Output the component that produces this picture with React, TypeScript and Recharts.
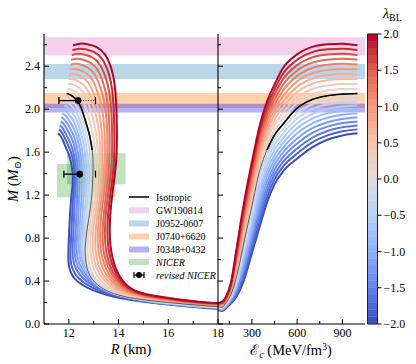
import React from 'react';
import { ComposedChart, Line, XAxis, YAxis, ReferenceArea, Scatter, ErrorBar } from 'recharts';

// central energy density grid (MeV/fm^3), shared by every sequence
const EPS = [75, 100, 130, 160, 200, 250, 300, 350, 400, 450, 500, 600, 700, 800, 900, 1000];

const LAMBDAS = [-2.0, -1.8, -1.6, -1.4, -1.2, -1.0, -0.8, -0.6, -0.4, -0.2, 0.0, 0.2, 0.4, 0.6, 0.8, 1.0, 1.2, 1.4, 1.6, 1.8, 2.0];

// mass (M_sun) per lambda, one row per lambda, one column per EPS value
const MASS = [
  [0.130, 0.120, 0.150, 0.190, 0.260, 0.420, 0.660, 0.900, 1.130, 1.300, 1.410, 1.540, 1.645, 1.715, 1.755, 1.775],
  [0.133, 0.124, 0.155, 0.198, 0.279, 0.456, 0.704, 0.952, 1.179, 1.346, 1.454, 1.587, 1.690, 1.756, 1.794, 1.812],
  [0.136, 0.127, 0.160, 0.206, 0.298, 0.492, 0.748, 1.004, 1.228, 1.392, 1.498, 1.634, 1.734, 1.797, 1.832, 1.849],
  [0.139, 0.131, 0.165, 0.214, 0.317, 0.528, 0.792, 1.056, 1.277, 1.438, 1.542, 1.681, 1.779, 1.838, 1.871, 1.886],
  [0.142, 0.134, 0.170, 0.222, 0.336, 0.564, 0.836, 1.108, 1.326, 1.484, 1.586, 1.728, 1.823, 1.879, 1.909, 1.923],
  [0.145, 0.138, 0.175, 0.230, 0.355, 0.600, 0.880, 1.160, 1.375, 1.530, 1.630, 1.775, 1.868, 1.920, 1.948, 1.961],
  [0.148, 0.141, 0.180, 0.238, 0.374, 0.636, 0.924, 1.212, 1.424, 1.576, 1.674, 1.822, 1.912, 1.961, 1.986, 1.998],
  [0.151, 0.145, 0.185, 0.246, 0.393, 0.672, 0.968, 1.264, 1.473, 1.622, 1.718, 1.869, 1.957, 2.002, 2.025, 2.035],
  [0.154, 0.148, 0.190, 0.254, 0.412, 0.708, 1.012, 1.316, 1.522, 1.668, 1.762, 1.916, 2.001, 2.043, 2.063, 2.072],
  [0.157, 0.152, 0.195, 0.262, 0.431, 0.744, 1.056, 1.368, 1.571, 1.714, 1.806, 1.963, 2.046, 2.084, 2.102, 2.109],
  [0.160, 0.155, 0.200, 0.270, 0.450, 0.780, 1.100, 1.420, 1.620, 1.760, 1.850, 2.010, 2.090, 2.125, 2.140, 2.146],
  [0.164, 0.160, 0.206, 0.281, 0.477, 0.817, 1.141, 1.462, 1.665, 1.807, 1.902, 2.060, 2.139, 2.173, 2.187, 2.191],
  [0.167, 0.165, 0.212, 0.292, 0.504, 0.854, 1.182, 1.504, 1.710, 1.854, 1.954, 2.110, 2.188, 2.221, 2.234, 2.236],
  [0.171, 0.170, 0.218, 0.303, 0.531, 0.891, 1.223, 1.546, 1.755, 1.901, 2.006, 2.160, 2.237, 2.269, 2.281, 2.281],
  [0.174, 0.175, 0.224, 0.314, 0.558, 0.928, 1.264, 1.588, 1.800, 1.948, 2.058, 2.210, 2.286, 2.317, 2.328, 2.326],
  [0.178, 0.180, 0.230, 0.325, 0.585, 0.965, 1.305, 1.630, 1.845, 1.995, 2.110, 2.260, 2.335, 2.365, 2.375, 2.371],
  [0.181, 0.185, 0.236, 0.336, 0.612, 1.002, 1.346, 1.672, 1.890, 2.042, 2.162, 2.310, 2.384, 2.413, 2.422, 2.415],
  [0.185, 0.190, 0.242, 0.347, 0.639, 1.039, 1.387, 1.714, 1.935, 2.089, 2.214, 2.360, 2.433, 2.461, 2.469, 2.460],
  [0.188, 0.195, 0.248, 0.358, 0.666, 1.076, 1.428, 1.756, 1.980, 2.136, 2.266, 2.410, 2.482, 2.509, 2.516, 2.505],
  [0.192, 0.200, 0.254, 0.369, 0.693, 1.113, 1.469, 1.798, 2.025, 2.183, 2.318, 2.460, 2.531, 2.557, 2.563, 2.550],
  [0.195, 0.205, 0.260, 0.380, 0.720, 1.150, 1.510, 1.840, 2.070, 2.230, 2.370, 2.510, 2.580, 2.605, 2.610, 2.595],
];

// radius (km), same layout as MASS
const RADIUS = [
  [22.0, 20.0, 17.5, 15.6, 13.7, 12.25, 11.98, 12.02, 12.08, 12.15, 12.15, 12.05, 11.88, 11.75, 11.65, 11.56],
  [21.9, 19.86, 17.35, 15.44, 13.62, 12.29, 12.07, 12.12, 12.17, 12.22, 12.21, 12.10, 11.92, 11.79, 11.69, 11.60],
  [21.8, 19.72, 17.2, 15.28, 13.53, 12.34, 12.16, 12.21, 12.25, 12.29, 12.26, 12.14, 11.96, 11.82, 11.72, 11.63],
  [21.7, 19.58, 17.05, 15.12, 13.45, 12.38, 12.25, 12.31, 12.34, 12.35, 12.32, 12.19, 12.01, 11.86, 11.76, 11.67],
  [21.6, 19.44, 16.9, 14.96, 13.36, 12.42, 12.34, 12.40, 12.42, 12.42, 12.38, 12.23, 12.05, 11.90, 11.79, 11.70],
  [21.5, 19.3, 16.75, 14.8, 13.28, 12.47, 12.43, 12.50, 12.51, 12.49, 12.44, 12.28, 12.09, 11.94, 11.83, 11.74],
  [21.4, 19.16, 16.6, 14.64, 13.19, 12.51, 12.52, 12.59, 12.60, 12.56, 12.49, 12.32, 12.13, 11.97, 11.86, 11.77],
  [21.3, 19.02, 16.45, 14.48, 13.11, 12.55, 12.61, 12.69, 12.68, 12.63, 12.55, 12.37, 12.17, 12.01, 11.90, 11.81],
  [21.2, 18.88, 16.3, 14.32, 13.02, 12.59, 12.70, 12.78, 12.77, 12.69, 12.61, 12.41, 12.22, 12.05, 11.93, 11.84],
  [21.1, 18.74, 16.15, 14.16, 12.94, 12.64, 12.79, 12.88, 12.85, 12.76, 12.66, 12.46, 12.26, 12.08, 11.97, 11.88],
  [21.0, 18.6, 16.0, 14.0, 12.85, 12.68, 12.88, 12.97, 12.94, 12.83, 12.72, 12.50, 12.30, 12.12, 12.00, 11.91],
  [20.73, 18.47, 15.95, 14.03, 12.93, 12.78, 12.98, 13.07, 13.04, 12.93, 12.82, 12.60, 12.38, 12.18, 12.05, 11.94],
  [20.46, 18.34, 15.9, 14.05, 13.02, 12.89, 13.08, 13.16, 13.13, 13.03, 12.92, 12.69, 12.46, 12.25, 12.09, 11.96],
  [20.19, 18.21, 15.85, 14.08, 13.10, 12.99, 13.19, 13.26, 13.23, 13.13, 13.02, 12.79, 12.54, 12.31, 12.14, 11.99],
  [19.92, 18.08, 15.8, 14.1, 13.18, 13.10, 13.29, 13.35, 13.32, 13.23, 13.12, 12.88, 12.62, 12.37, 12.18, 12.01],
  [19.65, 17.95, 15.75, 14.13, 13.27, 13.20, 13.39, 13.45, 13.42, 13.34, 13.22, 12.98, 12.70, 12.44, 12.23, 12.04],
  [19.38, 17.82, 15.7, 14.15, 13.35, 13.30, 13.49, 13.55, 13.52, 13.44, 13.32, 13.07, 12.78, 12.50, 12.27, 12.07],
  [19.11, 17.69, 15.65, 14.18, 13.43, 13.41, 13.59, 13.64, 13.61, 13.54, 13.42, 13.17, 12.86, 12.56, 12.32, 12.09],
  [18.84, 17.56, 15.6, 14.2, 13.51, 13.51, 13.70, 13.74, 13.71, 13.64, 13.52, 13.26, 12.94, 12.62, 12.36, 12.12],
  [18.57, 17.43, 15.55, 14.23, 13.60, 13.62, 13.80, 13.83, 13.80, 13.74, 13.62, 13.36, 13.02, 12.69, 12.41, 12.14],
  [18.3, 17.3, 15.5, 14.25, 13.68, 13.72, 13.90, 13.93, 13.90, 13.84, 13.72, 13.45, 13.10, 12.75, 12.45, 12.17],
];

const ISO_INDEX = 10; // lambda = 0, the isotropic star

// mass constraints (horizontal bands)
const BAND_NAMES = ['GW190814', 'J0952-0607', 'J0740+6620', 'J0348+0432'];
const BAND_LO = [2.50, 2.28, 2.01, 1.97];
const BAND_HI = [2.67, 2.42, 2.15, 2.05];

// NICER boxes
const NICER_R_LO = [11.52, 11.93];
const NICER_R_HI = [13.88, 14.28];
const NICER_M_LO = [1.18, 1.30];
const NICER_M_HI = [1.49, 1.59];

// revised NICER points
const REV_R = [12.37, 12.44];
const REV_M = [2.08, 1.395];
const REV_LO = [0.77, 0.64];
const REV_HI = [0.70, 0.63];
const REV_DOTTED = [0.70, 0];

const R_TICKS = [12, 13, 14, 15, 16, 17, 18];
const R_MAJOR = [12, 14, 16, 18];
const M_TICKS = [0, 0.2, 0.4, 0.6, 0.8, 1.0, 1.2, 1.4, 1.6, 1.8, 2.0, 2.2, 2.4, 2.6];
const M_MAJOR = [0, 0.4, 0.8, 1.2, 1.6, 2.0, 2.4];
const E_TICKS = [150, 300, 450, 600, 750, 900];
const E_MAJOR = [300, 600, 900];
const CB_TICKS = [-2, -1.5, -1, -0.5, 0, 0.5, 1, 1.5, 2];

const BAND_COLORS = ['#e377c2', '#1f77b4', '#ff7f0e', '#0000ff'];
const BAND_ALPHA = [0.35, 0.3, 0.35, 0.3];
const NICER_COLOR = '#2ca02c';
const FONT = '"Liberation Serif", "DejaVu Serif", serif';
const LINE_W = 2;

const CW = [
  [59, 76, 192], [98, 130, 234], [141, 176, 254], [184, 208, 249], [221, 221, 221],
  [245, 196, 173], [244, 154, 123], [222, 96, 77], [180, 4, 38],
];
function coolwarm(t: number) {
  const s = Math.max(0, Math.min(1, t)) * 8;
  const i = Math.min(7, Math.floor(s));
  const f = s - i;
  const c = CW[i].map((v, n) => Math.round(v + (CW[i + 1][n] - v) * f));
  return `rgb(${c[0]},${c[1]},${c[2]})`;
}
const lamColor = (lam: number) => coolwarm((lam + 2) / 4);

const minus = (s: string) => s.replace('-', '\u2212');
const isIn = (arr: number[], v: number) => arr.some((m) => Math.abs(m - v) < 1e-9);

type Side = 'left' | 'right' | 'top' | 'bottom';
const makeTick = (side: Side, majors: number[], fmt?: (v: number) => string, outward = false) => (props: any) => {
  const { x, y, payload } = props;
  const v = payload.value as number;
  const major = isIn(majors, v);
  const len = major ? 5 : 3;
  let x2 = x;
  let y2 = y;
  if (side === 'left') x2 = x + len;
  if (side === 'right') x2 = outward ? x + 4 : x - len;
  if (side === 'top') y2 = y + len;
  if (side === 'bottom') y2 = y - len;
  let label = null;
  if (fmt && major) {
    const common = { fontFamily: FONT, fontSize: 12, fill: '#000' };
    if (side === 'left') label = <text x={x - 4} y={y + 4} textAnchor="end" {...common}>{fmt(v)}</text>;
    if (side === 'bottom') label = <text x={x} y={y + 13} textAnchor="middle" {...common}>{fmt(v)}</text>;
    if (side === 'right') label = <text x={x + 6} y={y + 4} textAnchor="start" {...common}>{fmt(v)}</text>;
  }
  return (
    <g>
      <line x1={x} y1={y} x2={x2} y2={y2} stroke="#000" strokeWidth={1} />
      {label}
    </g>
  );
};

const AXIS = { stroke: '#000', strokeWidth: 1.1 };
const tickBase = { tickSize: 0, tickMargin: 0, tickLine: false, interval: 0 as const, allowDataOverflow: true, axisLine: AXIS };

const leftSeries = LAMBDAS.map((_, k) => RADIUS[k].map((r, j) => ({ R: r, M: MASS[k][j] })));
const rightSeries = LAMBDAS.map((_, k) => EPS.map((e, j) => ({ E: e, M: MASS[k][j] })));
const THICK_FROM = 8;

const revData = REV_R.map((r, i) => ({ R: r, M: REV_M[i], lo: [REV_LO[i], 0], hi: [0, REV_DOTTED[i]] }));
const capData = REV_R.map((r, i) => ({ R: r + REV_HI[i], M: REV_M[i] }));

// colour bar cells: each lambda step split into two cells
const cbCells = LAMBDAS.slice(0, -1).flatMap((lam, i) => {
  const mid = (lam + LAMBDAS[i + 1]) / 2;
  return [
    { lo: lam, hi: mid, c: lamColor((lam + mid) / 2) },
    { lo: mid, hi: LAMBDAS[i + 1], c: lamColor((mid + LAMBDAS[i + 1]) / 2) },
  ];
});

const bands = BAND_NAMES.map((name, i) => (
  <ReferenceArea key={name} y1={BAND_LO[i]} y2={BAND_HI[i]} fill={BAND_COLORS[i]} fillOpacity={BAND_ALPHA[i]} stroke="none" ifOverflow="hidden" />
));

const LeftPanel = () => (
  <ComposedChart width={232} height={364} margin={{ top: 34, right: 14, bottom: 10, left: 4 }}>
    <XAxis dataKey="R" type="number" domain={[11, 18]} ticks={R_TICKS} height={30} {...tickBase}
      tick={makeTick('bottom', R_MAJOR, (v) => String(v))} />
    <XAxis xAxisId="top" orientation="top" dataKey="R" type="number" domain={[11, 18]} ticks={R_TICKS} height={0} {...tickBase}
      tick={makeTick('top', R_MAJOR)} />
    <YAxis type="number" domain={[0, 2.7]} ticks={M_TICKS} width={40} {...tickBase}
      tick={makeTick('left', M_MAJOR, (v) => v.toFixed(1))} />
    <YAxis yAxisId="right" orientation="right" type="number" domain={[0, 2.7]} ticks={M_TICKS} width={0} {...tickBase}
      tick={makeTick('right', M_MAJOR)} />
    {bands}
    {NICER_R_LO.map((r, i) => (
      <ReferenceArea key={'n' + i} x1={r} x2={NICER_R_HI[i]} y1={NICER_M_LO[i]} y2={NICER_M_HI[i]}
        fill={NICER_COLOR} fillOpacity={0.3} stroke="none" />
    ))}
    {LAMBDAS.map((lam, k) => (
      <Line key={'l' + k} data={leftSeries[k]} dataKey="M" type="natural" stroke={lamColor(lam)} strokeWidth={LINE_W}
        dot={false} activeDot={false} isAnimationActive={false} />
    ))}
    <Line data={leftSeries[ISO_INDEX]} dataKey="M" type="natural" stroke="#000" strokeWidth={0.8} strokeOpacity={0.75}
      dot={false} activeDot={false} isAnimationActive={false} />
    <Line data={leftSeries[ISO_INDEX].slice(THICK_FROM)} dataKey="M" type="natural" stroke="#000" strokeWidth={1.6}
      dot={false} activeDot={false} isAnimationActive={false} />
    <Scatter data={capData} dataKey="M" isAnimationActive={false}
      shape={(p: any) => <line x1={p.cx} x2={p.cx} y1={p.cy - 3.5} y2={p.cy + 3.5} stroke="#000" strokeWidth={1.2} />} />
    <Scatter data={revData} dataKey="M" isAnimationActive={false}
      shape={(p: any) => <circle cx={p.cx} cy={p.cy} r={3.3} fill="#000" />}>
      <ErrorBar dataKey="lo" direction="x" width={3.5} stroke="#000" strokeWidth={1.3} />
      <ErrorBar dataKey="hi" direction="x" width={0} stroke="#444" strokeWidth={1} strokeDasharray="1 1.5" />
    </Scatter>
  </ComposedChart>
);

const RightPanel = () => (
  <ComposedChart width={190} height={364} margin={{ top: 34, right: 3, bottom: 10, left: 0 }}>
    <XAxis dataKey="E" type="number" domain={[75, 1050]} ticks={E_TICKS} height={30} {...tickBase}
      tick={makeTick('bottom', E_MAJOR, (v) => String(v))} />
    <XAxis xAxisId="top" orientation="top" dataKey="E" type="number" domain={[75, 1050]} ticks={E_TICKS} height={0} {...tickBase}
      tick={makeTick('top', E_MAJOR)} />
    <YAxis type="number" domain={[0, 2.7]} ticks={M_TICKS} width={40} {...tickBase}
      tick={makeTick('left', M_MAJOR)} />
    <YAxis yAxisId="right" orientation="right" type="number" domain={[0, 2.7]} ticks={M_TICKS} width={0} {...tickBase}
      tick={makeTick('right', M_MAJOR)} />
    {bands}
    {LAMBDAS.map((lam, k) => (
      <Line key={'r' + k} data={rightSeries[k]} dataKey="M" type="monotone" stroke={lamColor(lam)} strokeWidth={LINE_W}
        dot={false} activeDot={false} isAnimationActive={false} />
    ))}
    <Line data={rightSeries[ISO_INDEX]} dataKey="M" type="monotone" stroke="#000" strokeWidth={0.8} strokeOpacity={0.75}
      dot={false} activeDot={false} isAnimationActive={false} />
    <Line data={rightSeries[ISO_INDEX].slice(THICK_FROM)} dataKey="M" type="monotone" stroke="#000" strokeWidth={1.6}
      dot={false} activeDot={false} isAnimationActive={false} />
  </ComposedChart>
);

const ColorBar = () => (
  <ComposedChart width={60} height={364} data={CB_TICKS.map((v) => ({ v }))} margin={{ top: 34, right: 0, bottom: 40, left: 11.5 }}>
    <XAxis hide />
    <YAxis orientation="right" type="number" domain={[-2, 2]} ticks={CB_TICKS} width={38.5} {...tickBase} axisLine={false}
      tick={makeTick('right', CB_TICKS, (v) => minus(v.toFixed(1)), true)} />
    {cbCells.map((c, i) => (
      <ReferenceArea key={'cb' + i} y1={c.lo} y2={c.hi} fill={c.c} fillOpacity={1} stroke={c.c} strokeWidth={0.4} />
    ))}
    <ReferenceArea y1={-2} y2={2} fill="none" stroke="#222" strokeWidth={1} />
  </ComposedChart>
);

const LEG_Y = [197, 210.3, 223.5, 236.5, 249.5, 262, 275];

const Overlay = () => (
  <svg width={416} height={364} style={{ position: 'absolute', left: 0, top: 0, pointerEvents: 'none' }} fontFamily={FONT}>
    {/* legend */}
    <line x1={129} x2={149} y1={LEG_Y[0]} y2={LEG_Y[0]} stroke="#000" strokeWidth={1.5} />
    <text x={156} y={LEG_Y[0] + 3.5} fontSize={10}>Isotropic</text>
    {BAND_NAMES.map((name, i) => (
      <g key={name}>
        <rect x={129} y={LEG_Y[i + 1] - 3} width={20} height={6} fill={BAND_COLORS[i]} fillOpacity={BAND_ALPHA[i]} />
        <text x={156} y={LEG_Y[i + 1] + 3.5} fontSize={10}>{name}</text>
      </g>
    ))}
    <rect x={129} y={LEG_Y[5] - 3} width={20} height={6} fill={NICER_COLOR} fillOpacity={0.3} />
    <text x={156} y={LEG_Y[5] + 3.5} fontSize={10} fontStyle="italic">NICER</text>
    <line x1={134} x2={144} y1={LEG_Y[6]} y2={LEG_Y[6]} stroke="#000" strokeWidth={1.2} />
    <line x1={134} x2={134} y1={LEG_Y[6] - 3} y2={LEG_Y[6] + 3} stroke="#000" strokeWidth={1.2} />
    <line x1={144} x2={144} y1={LEG_Y[6] - 3} y2={LEG_Y[6] + 3} stroke="#000" strokeWidth={1.2} />
    <circle cx={139} cy={LEG_Y[6]} r={3} fill="#000" />
    <text x={156} y={LEG_Y[6] + 3.5} fontSize={10} fontStyle="italic">revised NICER</text>

    {/* axis labels */}
    <text x={131} y={354} fontSize={14.5} textAnchor="middle">
      <tspan fontStyle="italic">R</tspan> (km)
    </text>
    <text x={291} y={355} fontSize={14.5} textAnchor="middle">
      <tspan>{'\u2130'}</tspan>
      <tspan fontSize={10} dy={3} fontStyle="italic">c</tspan>
      <tspan dy={-3}> (MeV/fm</tspan>
      <tspan fontSize={9.5} dy={-5}>3</tspan>
      <tspan dy={5}>)</tspan>
    </text>
    <text transform="rotate(-90)" x={-179} y={18} fontSize={14.5} textAnchor="middle">
      <tspan fontStyle="italic">M</tspan>
      <tspan> (</tspan>
      <tspan fontStyle="italic">M</tspan>
      <tspan fontSize={10} dy={3}>{'\u2299'}</tspan>
      <tspan dy={-3}>)</tspan>
    </text>
    <text x={383} y={18} fontSize={14}>
      <tspan fontStyle="italic">{'\u03bb'}</tspan>
      <tspan fontSize={10} dy={3}>BL</tspan>
    </text>
  </svg>
);

export default function App() {
  return (
    <div style={{ position: 'absolute', left: 0, top: 0, width: 416, height: 364, background: '#fff', overflow: 'hidden' }}>
      <div style={{ position: 'absolute', left: 0, top: 0 }}><LeftPanel /></div>
      <div style={{ position: 'absolute', left: 178, top: 0 }}><RightPanel /></div>
      <div style={{ position: 'absolute', left: 356, top: 0 }}><ColorBar /></div>
      <Overlay />
    </div>
  );
}
